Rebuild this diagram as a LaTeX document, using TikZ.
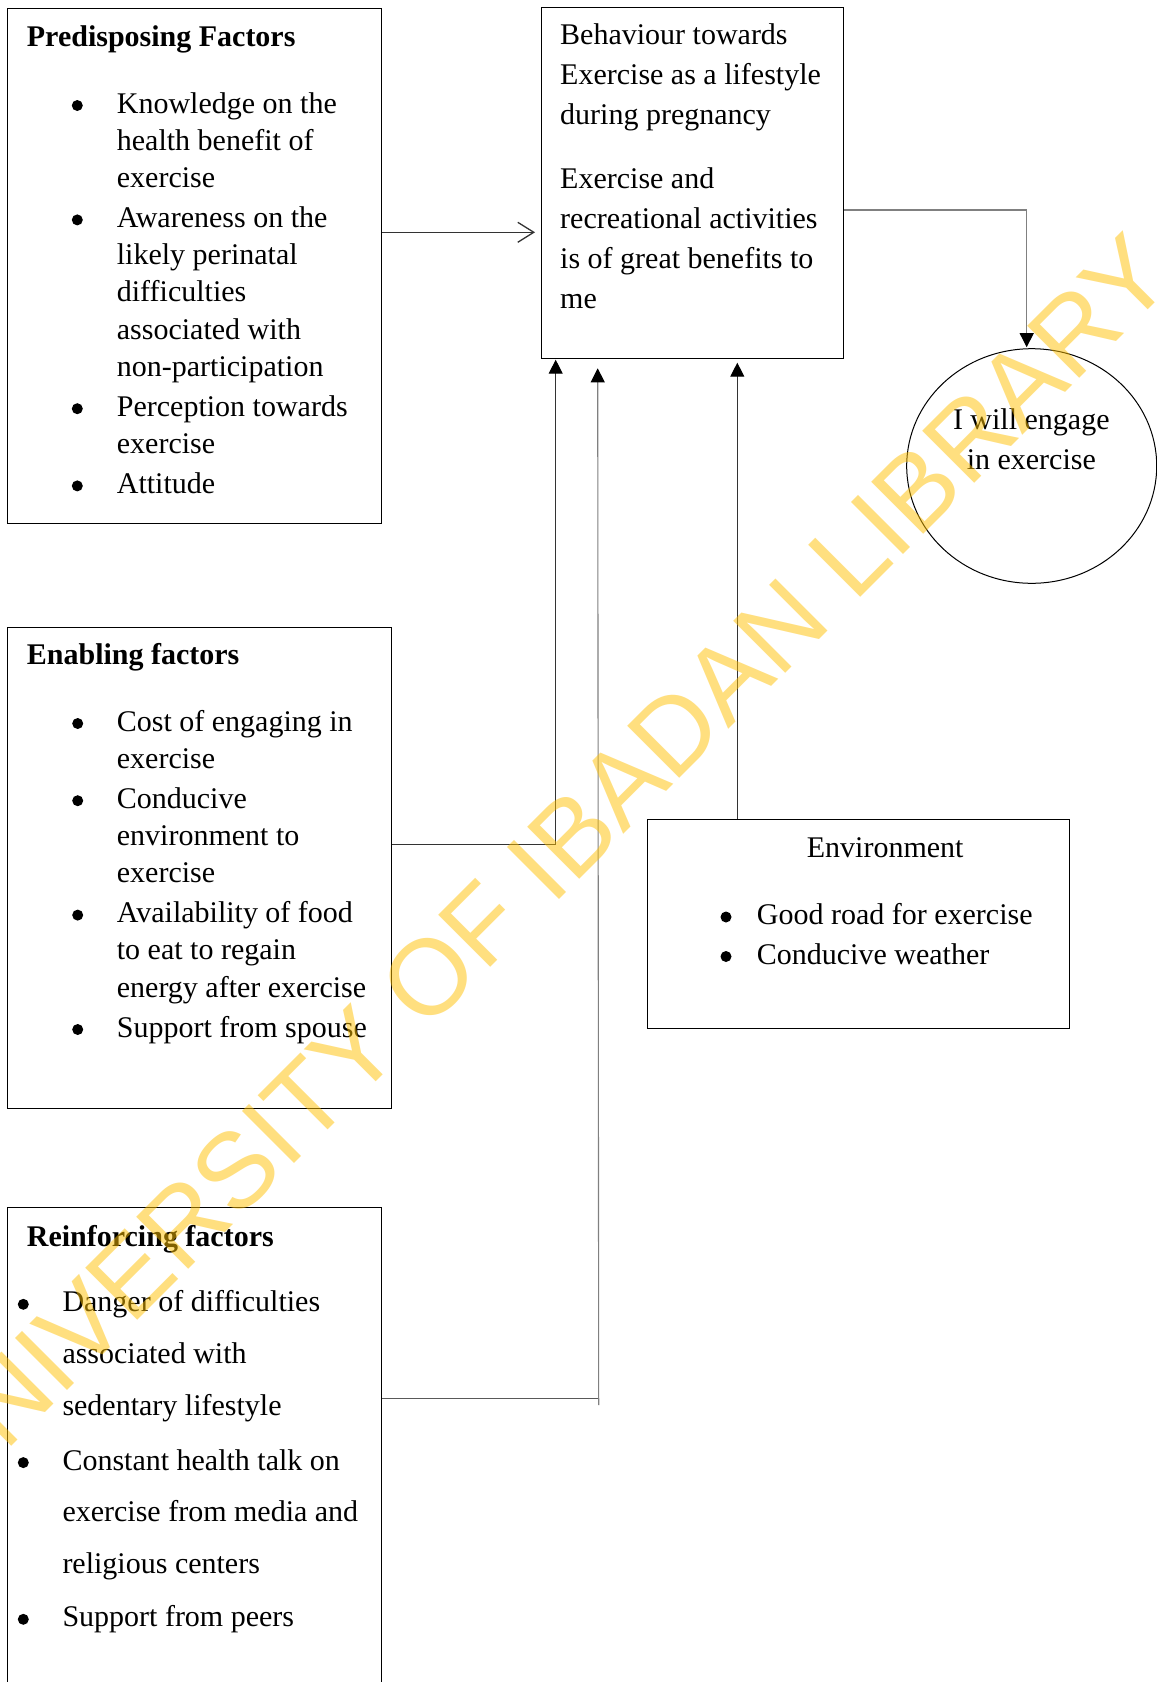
\documentclass[tikz,border=0pt]{standalone}
\usepackage{fontspec}
\setmainfont{Liberation Serif}[Ligatures=CommonOff]
\newfontfamily\wmfont{Liberation Sans}
\usetikzlibrary{arrows.meta, shapes.geometric}
\definecolor{wmyellow}{RGB}{255,192,0}
\tikzset{
  box/.style={draw=black, line width=1pt, inner sep=0pt, anchor=north west},
  txt/.style={anchor=base west, inner sep=0pt, font=\fontsize{30}{36}\selectfont},
  ttl/.style={anchor=base west, inner sep=0pt, font=\fontsize{30}{36}\selectfont\bfseries},
  ctr/.style={anchor=base, inner sep=0pt, font=\fontsize{30}{36}\selectfont},
  bul/.style={circle, fill=black, inner sep=0pt, minimum size=11pt},
  lnk/.style={draw=black!80, line width=1.1pt},
  lnkd/.style={draw=black!65, line width=1.1pt},
  lnkg/.style={draw=black!50, line width=1.1pt},
  tri/.style={-{Triangle[length=14pt,width=14pt,color=black]}},
  barb/.style={-{Straight Barb[length=16pt,width=20pt,line width=1.3pt]}}
}
\begin{document}
\begin{tikzpicture}[x=1pt, y=-1pt]
\useasboundingbox (0,0) rectangle (1157,1682);
\fill[white] (0,0) rectangle (1157,1682);

% boxes
\node[box, minimum width=373.7pt, minimum height=514.4pt] (pre) at (7.3,8.3) {};
\node[box, minimum width=302.6pt, minimum height=351pt] (beh) at (540.7,6.7) {};
\node[box, minimum width=383.4pt, minimum height=481.6pt] (ena) at (7.3,626.7) {};
\node[box, minimum width=373.4pt, minimum height=500pt] (rei) at (7.3,1207.3) {};
\node[box, minimum width=421.7pt, minimum height=208.4pt] (env) at (647.3,819.3) {};
\node[draw, ellipse, line width=1pt, minimum width=250pt, minimum height=234.6pt, inner sep=0pt] (goal) at (1031.7,466) {};

% Predisposing
\node[ttl] (pret) at (26.7,46) {Predisposing Factors};
\foreach \ypos/\txtline [count=\nn] in {113/Knowledge on the, 150.2/health benefit of, 187.4/exercise, 227.4/Awareness on the, 264.6/likely perinatal, 301.8/difficulties, 339/associated with, 376.2/non-participation, 416.2/Perception towards, 453.4/exercise, 493.4/Attitude}
  \node[txt] (pl\nn) at (116.7,\ypos) {\txtline};
\foreach \ypos [count=\nn] in {113,227.4,416.2,493.4}
  \node[bul] (pb\nn) at (77.3,\ypos-7.5) {};

% Behaviour
\foreach \ypos/\txtline [count=\nn] in {44.5/Behaviour towards, 84.5/Exercise as a lifestyle, 124.5/during pregnancy, 188.8/Exercise and, 228.8/recreational activities, 268.8/is of great benefits to, 308.8/me}
  \node[txt] (bl\nn) at (560,\ypos) {\txtline};

% Goal
\node[ctr] (g1) at (1031.3,429.4) {I will engage};
\node[ctr] (g2) at (1031.3,469.8) {in exercise};

% Enabling
\node[ttl] (enat) at (26.7,664.4) {Enabling factors};
\foreach \ypos/\txtline [count=\nn] in {731/Cost of engaging in, 768.2/exercise, 808.2/Conducive, 845.4/environment to, 882.6/exercise, 922.6/Availability of food, 959.8/to eat to regain, 997/energy after exercise, 1037/Support from spouse}
  \node[txt] (el\nn) at (116.7,\ypos) {\txtline};
\foreach \ypos [count=\nn] in {731,808.2,922.6,1037}
  \node[bul] (eb\nn) at (77.7,\ypos-7.5) {};

% Environment
\node[txt] (envt) at (806.7,857.5) {Environment};
\foreach \ypos/\txtline [count=\nn] in {924.5/Good road for exercise, 964/Conducive weather}
  \node[txt] (vl\nn) at (756.7,\ypos) {\txtline};
\foreach \ypos [count=\nn] in {924.5,964}
  \node[bul] (vb\nn) at (726,\ypos-7.5) {};

% Reinforcing
\node[ttl] (reit) at (26.7,1246.5) {Reinforcing factors};
\foreach \ypos/\txtline [count=\nn] in {1311.8/Danger of difficulties, 1363.5/associated with, 1415.1/sedentary lifestyle, 1470.1/Constant health talk on, 1521.8/exercise from media and, 1573.5/religious centers, 1626.8/Support from peers}
  \node[txt] (rl\nn) at (62.3,\ypos) {\txtline};
\foreach \ypos [count=\nn] in {1311.8,1470.1,1626.8}
  \node[bul] (rb\nn) at (23.3,\ypos-7.5) {};

% connectors
\draw[lnk, barb, shorten >=5.7pt] ([yshift=-224pt]pre.north east) -- ([yshift=-225.6pt]beh.north west);
\draw[lnkg, tri, shorten >=1pt] ([yshift=-203.3pt]beh.north east) -| ([xshift=-5pt]goal.north);
\draw[lnk, tri, shorten >=1pt] ([yshift=-217.6pt]ena.north east) -| ([xshift=15pt]beh.south west);
\coordinate (rlow) at ([xshift=217pt,yshift=-197.7pt]rei.north east);
\draw[lnkd] ([yshift=-191pt]rei.north east) -- ([xshift=217pt,yshift=-191pt]rei.north east);
\draw[lnkg, tri, shorten >=9.6pt] (rlow) -- ([xshift=57pt]beh.south west);
\draw[lnk, tri, shorten >=4pt] ([xshift=90pt]env.north west) -- ([xshift=196.6pt]beh.south west);

% watermark
\node[rotate=45, text=wmyellow, opacity=0.5, inner sep=0pt, font=\wmfont\fontsize{107}{107}\selectfont] (wm) at (538,868) {UNIVERSITY OF IBADAN LIBRARY};
\end{tikzpicture}
\end{document}
